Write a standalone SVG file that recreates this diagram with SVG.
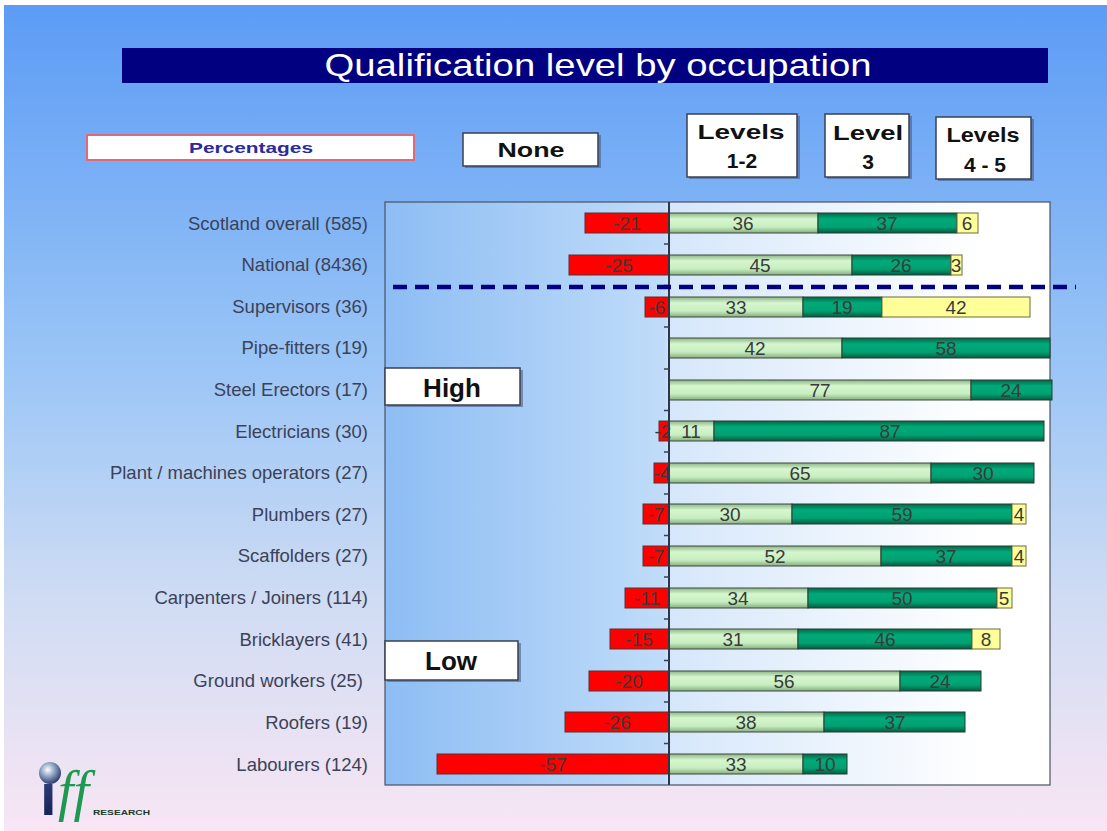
<svg xmlns="http://www.w3.org/2000/svg" width="1107" height="831" viewBox="0 0 1107 831">
<defs>
<linearGradient id="bg" x1="0" y1="0" x2="0" y2="831" gradientUnits="userSpaceOnUse">
<stop offset="0" stop-color="#5b9bf5"/>
<stop offset="0.45" stop-color="#9cc6f6"/>
<stop offset="0.72" stop-color="#cfdcf3"/>
<stop offset="1" stop-color="#f8e6f4"/>
</linearGradient>
<linearGradient id="plotbg" x1="385" y1="0" x2="1050" y2="0" gradientUnits="userSpaceOnUse">
<stop offset="0" stop-color="#8dbdf4"/>
<stop offset="0.42" stop-color="#c0dcf9"/>
<stop offset="0.43" stop-color="#d6e7fb"/>
<stop offset="0.9" stop-color="#ffffff"/>
<stop offset="1" stop-color="#ffffff"/>
</linearGradient>
<linearGradient id="lg" x1="0" y1="0" x2="0" y2="1">
<stop offset="0" stop-color="#8cb486"/>
<stop offset="0.3" stop-color="#d6f6cf"/>
<stop offset="0.7" stop-color="#c6eebf"/>
<stop offset="1" stop-color="#86ac80"/>
</linearGradient>
<linearGradient id="tl" x1="0" y1="0" x2="0" y2="1">
<stop offset="0" stop-color="#006848"/>
<stop offset="0.3" stop-color="#00aa7a"/>
<stop offset="0.7" stop-color="#00a072"/>
<stop offset="1" stop-color="#005e40"/>
</linearGradient>
<radialGradient id="sph" cx="0.4" cy="0.35" r="0.65">
<stop offset="0" stop-color="#ffffff"/>
<stop offset="0.5" stop-color="#8aa0c0"/>
<stop offset="1" stop-color="#304070"/>
</radialGradient>
<linearGradient id="istem" x1="0" y1="0" x2="0" y2="1">
<stop offset="0" stop-color="#3a4a8a"/>
<stop offset="1" stop-color="#101a50"/>
</linearGradient>
</defs>
<style>
.lbl{font-family:"Liberation Sans",Arial,sans-serif;font-size:18.5px;fill:#3c4258;text-anchor:end}
.num{font-family:"Liberation Sans Narrow","Liberation Sans",Arial,sans-serif;font-size:19px;fill:#3a3a3a;text-anchor:middle}
.red{fill:#ff0000;stroke:#5a3030;stroke-width:1}
.lgr{fill:url(#lg);stroke:#3a4a3a;stroke-width:1}
.tel{fill:url(#tl);stroke:#2a3a30;stroke-width:1}
.yel{fill:#ffff99;stroke:#6a6a40;stroke-width:1}
.hbox{fill:#ffffff;stroke:#3a4050;stroke-width:1.5}
.shadow{fill:#45557a;opacity:0.55}
.htxt{font-family:"Liberation Sans",Arial,sans-serif;font-weight:bold;font-size:21px;fill:#111111;text-anchor:middle}
.tick{stroke:#3a4050;stroke-width:1.5}
</style>

<rect x="0" y="0" width="1107" height="831" fill="#ffffff"/>
<rect x="4" y="5" width="1103" height="826" fill="url(#bg)"/>

<g id="title">
<rect x="122" y="48" width="926" height="35" fill="#000080"/>
<text x="598" y="76" font-family="Liberation Sans,Arial,sans-serif" font-size="32" fill="#ffffff" text-anchor="middle" textLength="547" lengthAdjust="spacingAndGlyphs">Qualification level by occupation</text>
</g>

<g id="percentages">
<rect x="87" y="135" width="327" height="25" fill="#ffffff" stroke="#e06a7a" stroke-width="2"/>
<text x="251" y="153" font-family="Liberation Sans,Arial,sans-serif" font-size="15" font-weight="bold" fill="#2a2a9a" text-anchor="middle" textLength="124" lengthAdjust="spacingAndGlyphs">Percentages</text>
</g>

<g id="none">
<rect class="shadow" x="465" y="135" width="136" height="33"/>
<rect class="hbox" x="463" y="133" width="135" height="33"/>
<text class="htxt" x="531" y="157" textLength="67" lengthAdjust="spacingAndGlyphs">None</text>
</g>

<g id="levels12">
<rect class="shadow" x="689" y="116" width="111" height="63"/>
<rect class="hbox" x="687" y="114" width="110" height="63"/>
<text class="htxt" x="741" y="139" textLength="87" lengthAdjust="spacingAndGlyphs">Levels</text>
<text class="htxt" x="742" y="168">1-2</text>
</g>

<g id="level3">
<rect class="shadow" x="827" y="116" width="85" height="63"/>
<rect class="hbox" x="825" y="114" width="84" height="63"/>
<text class="htxt" x="868" y="140" textLength="70" lengthAdjust="spacingAndGlyphs">Level</text>
<text class="htxt" x="868" y="169">3</text>
</g>

<g id="levels45">
<rect class="shadow" x="938" y="119" width="96" height="62"/>
<rect class="hbox" x="936" y="117" width="95" height="62"/>
<text class="htxt" x="983" y="142" textLength="73" lengthAdjust="spacingAndGlyphs">Levels</text>
<text class="htxt" x="985" y="172">4 - 5</text>
</g>

<g id="plot">
<rect x="385" y="202" width="665" height="583" fill="url(#plotbg)" stroke="#4a5262" stroke-width="1.2"/>
</g>

<g id="row-scotland">
<text class="lbl" x="368" y="230">Scotland overall (585)</text>
<rect class="red" x="585" y="213" width="84" height="20"/>
<rect class="lgr" x="669" y="213" width="149" height="20"/>
<rect class="tel" x="818" y="213" width="139" height="20"/>
<rect class="yel" x="957" y="213" width="21" height="20"/>
<text class="num" x="627" y="230">-21</text>
<text class="num" x="743" y="230">36</text>
<text class="num" x="887" y="230">37</text>
<text class="num" x="967" y="230">6</text>
</g>

<g id="row-national">
<text class="lbl" x="368" y="271">National (8436)</text>
<rect class="red" x="569" y="255" width="100" height="20"/>
<rect class="lgr" x="669" y="255" width="183" height="20"/>
<rect class="tel" x="852" y="255" width="99" height="20"/>
<rect class="yel" x="951" y="255" width="11" height="20"/>
<text class="num" x="619" y="272">-25</text>
<text class="num" x="760" y="272">45</text>
<text class="num" x="901" y="272">26</text>
<text class="num" x="956" y="272">3</text>
</g>

<g id="row-supervisors">
<text class="lbl" x="368" y="313">Supervisors (36)</text>
<rect class="red" x="645" y="297" width="24" height="20"/>
<rect class="lgr" x="669" y="297" width="134" height="20"/>
<rect class="tel" x="803" y="297" width="79" height="20"/>
<rect class="yel" x="882" y="297" width="148" height="20"/>
<text class="num" x="657" y="314">-6</text>
<text class="num" x="736" y="314">33</text>
<text class="num" x="842" y="314">19</text>
<text class="num" x="956" y="314">42</text>
</g>

<g id="row-pipefitters">
<text class="lbl" x="368" y="354">Pipe-fitters (19)</text>
<rect class="lgr" x="669" y="338" width="173" height="20"/>
<rect class="tel" x="842" y="338" width="208" height="20"/>
<text class="num" x="755" y="355">42</text>
<text class="num" x="946" y="355">58</text>
</g>

<g id="row-steel">
<text class="lbl" x="368" y="396">Steel Erectors (17)</text>
<rect class="lgr" x="669" y="380" width="302" height="20"/>
<rect class="tel" x="971" y="380" width="81" height="20"/>
<text class="num" x="820" y="397">77</text>
<text class="num" x="1011" y="397">24</text>
</g>

<g id="row-electricians">
<text class="lbl" x="368" y="438">Electricians (30)</text>
<rect class="red" x="659" y="421" width="10" height="20"/>
<rect class="lgr" x="669" y="421" width="45" height="20"/>
<rect class="tel" x="714" y="421" width="330" height="20"/>
<text class="num" x="663" y="438">-2</text>
<text class="num" x="691" y="438">11</text>
<text class="num" x="890" y="438">87</text>
</g>

<g id="row-plant">
<text class="lbl" x="368" y="479">Plant / machines operators (27)</text>
<rect class="red" x="654" y="463" width="15" height="20"/>
<rect class="lgr" x="669" y="463" width="262" height="20"/>
<rect class="tel" x="931" y="463" width="103" height="20"/>
<text class="num" x="662" y="480">-4</text>
<text class="num" x="800" y="480">65</text>
<text class="num" x="983" y="480">30</text>
</g>

<g id="row-plumbers">
<text class="lbl" x="368" y="521">Plumbers (27)</text>
<rect class="red" x="643" y="504" width="26" height="20"/>
<rect class="lgr" x="669" y="504" width="123" height="20"/>
<rect class="tel" x="792" y="504" width="220" height="20"/>
<rect class="yel" x="1012" y="504" width="14" height="20"/>
<text class="num" x="656" y="521">-7</text>
<text class="num" x="730" y="521">30</text>
<text class="num" x="902" y="521">59</text>
<text class="num" x="1019" y="521">4</text>
</g>

<g id="row-scaffolders">
<text class="lbl" x="368" y="562">Scaffolders (27)</text>
<rect class="red" x="643" y="546" width="26" height="20"/>
<rect class="lgr" x="669" y="546" width="212" height="20"/>
<rect class="tel" x="881" y="546" width="131" height="20"/>
<rect class="yel" x="1012" y="546" width="14" height="20"/>
<text class="num" x="656" y="563">-7</text>
<text class="num" x="775" y="563">52</text>
<text class="num" x="946" y="563">37</text>
<text class="num" x="1019" y="563">4</text>
</g>

<g id="row-carpenters">
<text class="lbl" x="368" y="604">Carpenters / Joiners (114)</text>
<rect class="red" x="625" y="588" width="44" height="20"/>
<rect class="lgr" x="669" y="588" width="139" height="20"/>
<rect class="tel" x="808" y="588" width="189" height="20"/>
<rect class="yel" x="997" y="588" width="15" height="20"/>
<text class="num" x="647" y="605">-11</text>
<text class="num" x="738" y="605">34</text>
<text class="num" x="902" y="605">50</text>
<text class="num" x="1004" y="605">5</text>
</g>

<g id="row-bricklayers">
<text class="lbl" x="368" y="646">Bricklayers (41)</text>
<rect class="red" x="610" y="629" width="59" height="20"/>
<rect class="lgr" x="669" y="629" width="129" height="20"/>
<rect class="tel" x="798" y="629" width="174" height="20"/>
<rect class="yel" x="972" y="629" width="28" height="20"/>
<text class="num" x="639" y="646">-15</text>
<text class="num" x="733" y="646">31</text>
<text class="num" x="885" y="646">46</text>
<text class="num" x="986" y="646">8</text>
</g>

<g id="row-ground">
<text class="lbl" x="363" y="687">Ground workers (25)</text>
<rect class="red" x="589" y="671" width="80" height="20"/>
<rect class="lgr" x="669" y="671" width="231" height="20"/>
<rect class="tel" x="900" y="671" width="81" height="20"/>
<text class="num" x="629" y="688">-20</text>
<text class="num" x="784" y="688">56</text>
<text class="num" x="940" y="688">24</text>
</g>

<g id="row-roofers">
<text class="lbl" x="368" y="729">Roofers (19)</text>
<rect class="red" x="565" y="712" width="104" height="20"/>
<rect class="lgr" x="669" y="712" width="155" height="20"/>
<rect class="tel" x="824" y="712" width="141" height="20"/>
<text class="num" x="617" y="729">-26</text>
<text class="num" x="746" y="729">38</text>
<text class="num" x="895" y="729">37</text>
</g>

<g id="row-labourers">
<text class="lbl" x="368" y="771">Labourers (124)</text>
<rect class="red" x="437" y="754" width="232" height="20"/>
<rect class="lgr" x="669" y="754" width="134" height="20"/>
<rect class="tel" x="803" y="754" width="44" height="20"/>
<text class="num" x="553" y="771">-57</text>
<text class="num" x="736" y="771">33</text>
<text class="num" x="825" y="771">10</text>
</g>

<g id="axis">
<line x1="669" y1="202" x2="669" y2="785" stroke="#2e3548" stroke-width="2"/>
<line class="tick" x1="664" y1="244" x2="669" y2="244"/>
<line class="tick" x1="664" y1="285.5" x2="669" y2="285.5"/>
<line class="tick" x1="664" y1="327" x2="669" y2="327"/>
<line class="tick" x1="664" y1="369" x2="669" y2="369"/>
<line class="tick" x1="664" y1="410.5" x2="669" y2="410.5"/>
<line class="tick" x1="664" y1="452" x2="669" y2="452"/>
<line class="tick" x1="664" y1="494" x2="669" y2="494"/>
<line class="tick" x1="664" y1="535.5" x2="669" y2="535.5"/>
<line class="tick" x1="664" y1="577" x2="669" y2="577"/>
<line class="tick" x1="664" y1="619" x2="669" y2="619"/>
<line class="tick" x1="664" y1="660.5" x2="669" y2="660.5"/>
<line class="tick" x1="664" y1="702" x2="669" y2="702"/>
<line class="tick" x1="664" y1="743.5" x2="669" y2="743.5"/>
</g>

<g id="connectors">
<line x1="393" y1="287" x2="1076" y2="287" stroke="#000080" stroke-width="4.5" stroke-dasharray="14 8"/>
</g>

<g id="high">
<rect class="shadow" x="387" y="370" width="136" height="37"/>
<rect class="hbox" x="385" y="368" width="135" height="37"/>
<text x="452" y="397" font-family="Liberation Sans,Arial,sans-serif" font-weight="bold" font-size="26" fill="#111111" text-anchor="middle">High</text>
</g>

<g id="low">
<rect class="shadow" x="387" y="643" width="134" height="39"/>
<rect class="hbox" x="385" y="641" width="133" height="39"/>
<text x="451" y="670" font-family="Liberation Sans,Arial,sans-serif" font-weight="bold" font-size="26" fill="#111111" text-anchor="middle">Low</text>
</g>

<g id="logo">
<text x="40" y="815" font-family="Liberation Sans,Arial,sans-serif" font-weight="bold" font-size="60" fill="url(#istem)">i</text>
<circle cx="50" cy="773" r="11" fill="url(#sph)"/>
<text x="58" y="810" font-family="Liberation Serif,Times New Roman,serif" font-style="italic" font-size="56" fill="#1e9a50">ff</text>
<text x="93" y="815" font-family="Liberation Sans,Arial,sans-serif" font-weight="bold" font-size="8" fill="#1a3a2a" textLength="57" lengthAdjust="spacingAndGlyphs">RESEARCH</text>
</g>
</svg>
